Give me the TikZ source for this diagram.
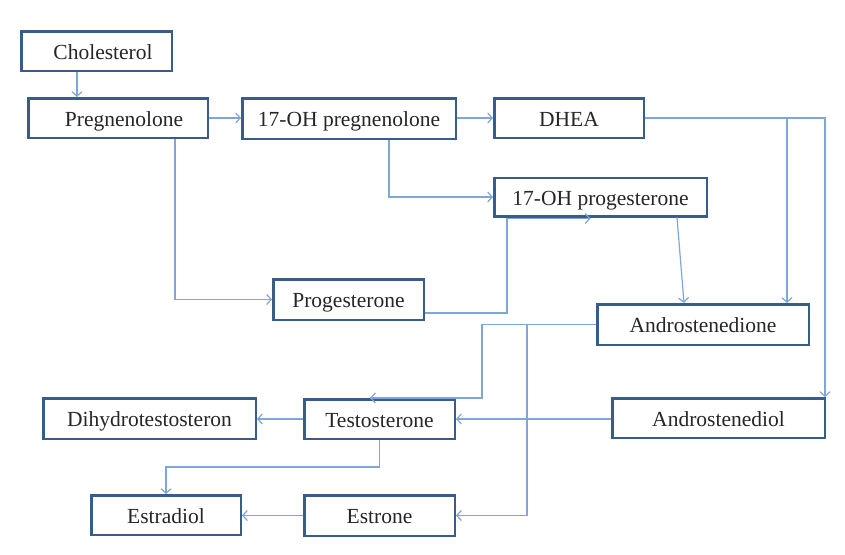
\documentclass[tikz,border=0pt]{standalone}
\usepackage{fontspec}
\setmainfont{Liberation Serif}
\usetikzlibrary{arrows.meta}
\definecolor{boxline}{HTML}{385D8A}
\definecolor{connline}{HTML}{7FA6D6}
\begin{document}
\begin{tikzpicture}[x=1pt,y=1pt,
  box/.style={draw=boxline,line width=2.5pt,fill=white,inner sep=0pt,
    text height=16pt,text depth=0pt,
    font=\fontsize{21.5}{24}\selectfont,text=black!85},
  conn/.style={draw=connline,line width=1.2pt,-{Straight Barb[length=4.5pt,width=10pt]}}]
\useasboundingbox (0,0) rectangle (845,-554);
\node[box,minimum width=150.5pt,minimum height=39.5pt] (chol) at (96.5,-51) {\hspace*{13pt}Cholesterol};
\node[box,minimum width=179.5pt,minimum height=39.5pt] (preg) at (118,-118) {\hspace*{12pt}Pregnenolone};
\node[box,minimum width=213.5pt,minimum height=40.5pt] (ohpreg) at (349,-118.5) {17-OH pregnenolone};
\node[box,minimum width=149.5pt,minimum height=39.5pt] (dhea) at (569,-118) {DHEA};
\node[box,minimum width=212.5pt,minimum height=38.5pt] (ohprog) at (600.5,-197) {17-OH progesterone};
\node[box,minimum width=150.5pt,minimum height=40.5pt] (prog) at (348.5,-299.5) {Progesterone};
\node[box,minimum width=211.5pt,minimum height=40.5pt] (andione) at (703,-324.5) {Androstenedione};
\node[box,minimum width=212.5pt,minimum height=39.5pt] (andiol) at (718.5,-418) {Androstenediol};
\node[box,minimum width=150.5pt,minimum height=39.5pt] (testo) at (379.5,-419) {Testosterone};
\node[box,minimum width=212.5pt,minimum height=40.5pt] (dht) at (149.5,-418.5) {Dihydrotestosteron};
\node[box,minimum width=149.5pt,minimum height=39.5pt] (estradiol) at (166,-515) {Estradiol};
\node[box,minimum width=150.5pt,minimum height=40.5pt] (estrone) at (379.5,-515.5) {Estrone};
% connectors
\draw[conn] ([xshift=57pt]chol.south west) -- ([xshift=50pt]preg.north west);
\draw[conn] (preg.east) -- (ohpreg.west |- preg.east);
\draw[conn] (ohpreg.east |- dhea.west) -- (dhea.west);
\draw[conn] ([xshift=57pt]preg.south) |- (prog.west);
\draw[conn] ([xshift=40pt]ohpreg.south) |- (ohprog.west);
\coordinate (pa) at ([xshift=14pt,yshift=-1pt]ohprog.south west);
\draw[conn] ([yshift=-13.5pt]prog.east) -| (pa) -- ([xshift=-10pt,yshift=-1pt]ohprog.south);
\draw[conn] ([xshift=76.5pt]ohprog.south) -- ([xshift=-19pt]andione.north);
\draw[conn] (dhea.east) -| ([xshift=106.5pt]andiol.north);
\coordinate (dj) at ([xshift=84pt]andione.north);
\draw[conn] (dj |- dhea.east) -- (dj);
\draw[conn] (andiol.west |- testo.east) -- (testo.east);
\coordinate (ta) at ([xshift=102.5pt]testo.north);
\draw[conn] (andione.west) -| (ta) -- ([xshift=-9.5pt]testo.north);
\coordinate (tb) at ([xshift=71pt]estrone.east);
\draw[conn] (andione.west -| tb) |- (estrone.east);
\draw[conn] (testo.west) -- (dht.east |- testo.west);
\draw[conn] (testo.south) -- ++(0,-27) -| (estradiol.north);
\draw[conn] (estrone.west) -- (estradiol.east |- estrone.west);
\end{tikzpicture}
\end{document}
